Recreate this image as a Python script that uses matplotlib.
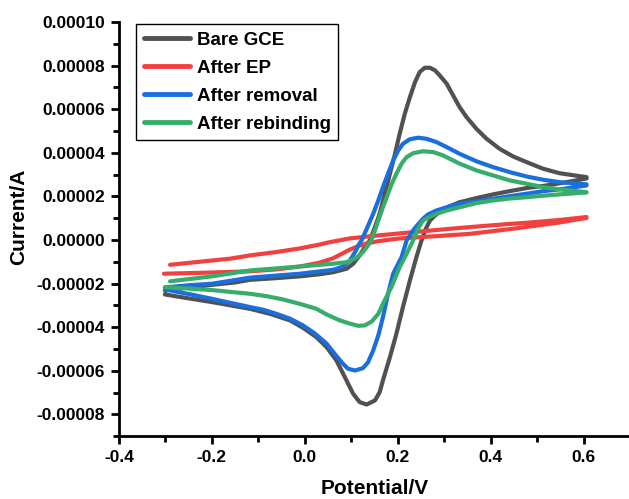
import numpy as np
import matplotlib.pyplot as plt
from matplotlib.ticker import MultipleLocator, FuncFormatter

# currents are read in units of 1e-5 A
scale = 1e-5

# Bare GCE: anodic sweep then cathodic sweep
bare_v = [-0.301, -0.250, -0.200, -0.150, -0.118, -0.060, -0.011, 0.030, 0.061, 0.090,
          0.104, 0.118, 0.129, 0.140, 0.150, 0.161, 0.172, 0.183, 0.194, 0.204,
          0.215, 0.226, 0.237, 0.247, 0.258, 0.269, 0.280, 0.290, 0.305, 0.319,
          0.333, 0.348, 0.369, 0.391, 0.419, 0.448, 0.477, 0.512, 0.548, 0.606,
          0.606, 0.563, 0.520, 0.477, 0.441, 0.405, 0.369, 0.333, 0.312, 0.294,
          0.280, 0.269, 0.260, 0.251, 0.240, 0.226, 0.211, 0.197, 0.183, 0.168,
          0.161, 0.151, 0.133, 0.118, 0.104, 0.086, 0.068, 0.047, 0.025, -0.004,
          -0.032, -0.075, -0.118, -0.200, -0.250, -0.301]
bare_i = [-2.32, -2.18, -2.06, -1.95, -1.83, -1.75, -1.67, -1.58, -1.48, -1.32,
          -1.09, -0.71, -0.33, -0.02, 0.55, 1.20, 2.12, 3.04, 3.95, 4.87,
          5.79, 6.55, 7.24, 7.70, 7.90, 7.90, 7.78, 7.55, 7.17, 6.63,
          6.09, 5.63, 5.10, 4.64, 4.18, 3.83, 3.57, 3.27, 3.06, 2.88,
          2.82, 2.65, 2.50, 2.38, 2.24, 2.09, 1.92, 1.73, 1.55, 1.35,
          1.12, 0.89, 0.50, -0.02, -0.79, -1.86, -3.08, -4.30, -5.38, -6.44,
          -6.98, -7.36, -7.55, -7.44, -7.06, -6.29, -5.53, -4.92, -4.46, -4.03,
          -3.69, -3.39, -3.16, -2.85, -2.68, -2.50]

# After EP
ep_v = [-0.290, -0.226, -0.161, -0.118, -0.060, -0.011, 0.030, 0.054, 0.097, 0.150,
        0.204, 0.280, 0.355, 0.420, 0.484, 0.550, 0.606,
        0.606, 0.580, 0.548, 0.450, 0.355, 0.280, 0.204, 0.160, 0.133, 0.115,
        0.097, 0.080, 0.060, 0.030, -0.011, -0.060, -0.118, -0.226, -0.303]
ep_i = [-1.14, -1.00, -0.86, -0.71, -0.55, -0.39, -0.22, -0.10, 0.07, 0.19,
        0.30, 0.45, 0.59, 0.70, 0.80, 0.92, 1.05,
        1.01, 0.92, 0.80, 0.52, 0.28, 0.17, 0.07, -0.05, -0.16, -0.28,
        -0.44, -0.63, -0.85, -1.05, -1.22, -1.35, -1.44, -1.51, -1.55]

# After removal
rem_v = [-0.301, -0.250, -0.200, -0.118, -0.011, 0.061, 0.082, 0.097, 0.108, 0.115,
         0.122, 0.134, 0.147, 0.158, 0.168, 0.179, 0.190, 0.201, 0.211, 0.226,
         0.244, 0.262, 0.283, 0.305, 0.333, 0.369, 0.405, 0.441, 0.477, 0.513,
         0.548, 0.606,
         0.606, 0.548, 0.513, 0.477, 0.441, 0.405, 0.369, 0.333, 0.305, 0.283,
         0.265, 0.254, 0.235, 0.219, 0.208, 0.190, 0.179, 0.168, 0.158, 0.147,
         0.136, 0.125, 0.108, 0.093, 0.082, 0.064, 0.047, 0.022, -0.004, -0.032,
         -0.061, -0.090, -0.118, -0.200, -0.250, -0.301]
rem_i = [-2.18, -2.08, -2.01, -1.73, -1.55, -1.37, -1.22, -0.94, -0.56, -0.25,
         -0.02, 0.55, 1.20, 1.81, 2.42, 3.04, 3.65, 4.11, 4.41, 4.62,
         4.69, 4.64, 4.49, 4.26, 3.95, 3.61, 3.34, 3.11, 2.91, 2.76,
         2.65, 2.55,
         2.50, 2.32, 2.24, 2.12, 2.01, 1.89, 1.77, 1.66, 1.50, 1.35,
         1.17, 0.97, 0.50, -0.02, -0.79, -1.55, -2.47, -3.54, -4.38, -5.07,
         -5.61, -5.88, -5.99, -5.91, -5.68, -5.22, -4.76, -4.30, -3.92, -3.61,
         -3.39, -3.20, -3.08, -2.70, -2.48, -2.27]

# After rebinding
reb_v = [-0.290, -0.200, -0.118, -0.011, 0.061, 0.090, 0.111, 0.125, 0.136, 0.143,
         0.150, 0.158, 0.168, 0.176, 0.187, 0.197, 0.208, 0.219, 0.233, 0.254,
         0.276, 0.297, 0.333, 0.369, 0.405, 0.441, 0.477, 0.513, 0.548, 0.606,
         0.606, 0.548, 0.513, 0.477, 0.441, 0.405, 0.369, 0.333, 0.305, 0.283,
         0.265, 0.254, 0.243, 0.233, 0.219, 0.204, 0.186, 0.168, 0.158, 0.144,
         0.129, 0.115, 0.097, 0.075, 0.047, 0.025, -0.011, -0.047, -0.082, -0.118,
         -0.200, -0.250, -0.301]
reb_i = [-1.90, -1.67, -1.40, -1.22, -1.09, -1.02, -0.82, -0.56, -0.25, -0.02,
         0.40, 0.89, 1.50, 1.96, 2.58, 3.04, 3.50, 3.80, 3.98, 4.07,
         4.03, 3.88, 3.50, 3.19, 2.96, 2.73, 2.58, 2.42, 2.32, 2.19,
         2.18, 2.09, 2.03, 1.96, 1.90, 1.81, 1.69, 1.50, 1.35, 1.20,
         1.02, 0.89, 0.50, -0.02, -0.63, -1.25, -2.17, -2.93, -3.39, -3.74,
         -3.92, -3.94, -3.84, -3.69, -3.42, -3.16, -2.93, -2.73, -2.58, -2.47,
         -2.30, -2.23, -2.17]

series = [
    ('Bare GCE', bare_v, bare_i, '#515151'),
    ('After EP', ep_v, ep_i, '#F14040'),
    ('After removal', rem_v, rem_i, '#1A6FDF'),
    ('After rebinding', reb_v, reb_i, '#37AD6B'),
]

plt.rcParams['font.family'] = ['Liberation Sans', 'DejaVu Sans']
plt.rcParams['font.weight'] = 'bold'

fig = plt.figure(figsize=(6.29, 4.99), dpi=100)
ax = fig.add_axes([0.189, 0.126, 0.813, 0.830])

for name, v, i, col in series:
    ax.plot(v, np.array(i) * scale, color=col, lw=3, label=name,
            solid_joinstyle='round', solid_capstyle='round')

ax.set_xlim(-0.4, 0.7)
ax.set_ylim(-0.00009, 0.0001)
ax.xaxis.set_major_locator(MultipleLocator(0.2))
ax.xaxis.set_minor_locator(MultipleLocator(0.1))
ax.yaxis.set_major_locator(MultipleLocator(0.00002))
ax.yaxis.set_minor_locator(MultipleLocator(0.00001))
ax.xaxis.set_major_formatter(FuncFormatter(lambda x, p: '%.1f' % (0 if abs(x) < 1e-9 else x)))
ax.yaxis.set_major_formatter(FuncFormatter(lambda y, p: '%.5f' % (0 if abs(y) < 1e-12 else y)))

for s in ['top', 'right']:
    ax.spines[s].set_visible(False)
for s in ['left', 'bottom']:
    ax.spines[s].set_linewidth(2)
ax.tick_params(which='major', direction='out', length=6, width=2, labelsize=12.5, pad=4)
ax.tick_params(which='minor', direction='out', length=4, width=2)
for lab in ax.get_xticklabels() + ax.get_yticklabels():
    lab.set_fontweight('bold')

ax.set_xlabel('Potential/V', fontsize=15, fontweight='bold', labelpad=10)
ax.set_ylabel('Current/A', fontsize=15, fontweight='bold')
ax.yaxis.set_label_coords(-0.178, 0.53)

leg = ax.legend(loc='upper left', bbox_to_anchor=(136 / 629, 1 - 24 / 499),
                bbox_transform=fig.transFigure, borderaxespad=0, fancybox=False,
                edgecolor='black', framealpha=1, fontsize=13.5, handlelength=2.5,
                handletextpad=0.35, labelspacing=0.58, borderpad=0.4)
leg.get_frame().set_linewidth(1)
for line in leg.get_lines():
    line.set_linewidth(3.5)
for t in leg.get_texts():
    t.set_fontweight('bold')

fig.savefig('out.png', dpi=100)
